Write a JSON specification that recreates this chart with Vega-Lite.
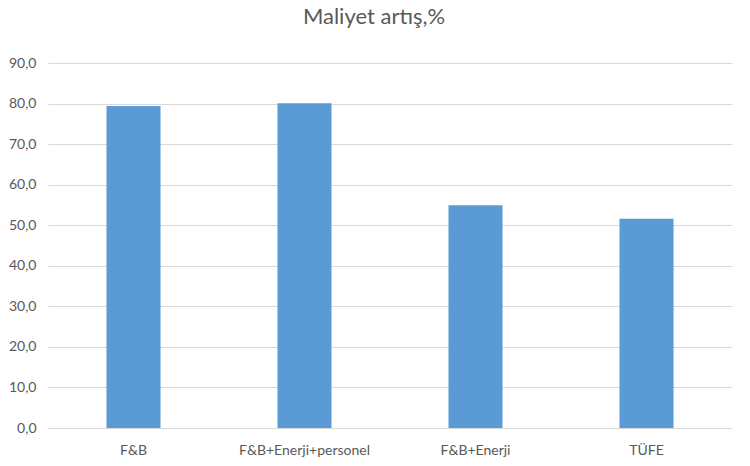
{
  "$schema": "https://vega.github.io/schema/vega-lite/v6.json",
  "width": 684,
  "height": 365,
  "autosize": {"type": "none"},
  "padding": {"left": 48, "top": 63, "right": 18, "bottom": 38},
  "background": "white",
  "title": {
    "text": "Maliyet artış,%",
    "font": "Lato",
    "fontSize": 22,
    "fontWeight": "normal",
    "color": "#595959",
    "anchor": "middle",
    "offset": 27,
    "dx": -16
  },
  "data": {
    "values": [
      {"kategori": "F&B", "deger": 79.4},
      {"kategori": "F&B+Enerji+personel", "deger": 80.1},
      {"kategori": "F&B+Enerji", "deger": 54.9},
      {"kategori": "TÜFE", "deger": 51.6}
    ]
  },
  "mark": {"type": "bar", "color": "#5b9bd5"},
  "encoding": {
    "x": {
      "field": "kategori",
      "type": "nominal",
      "sort": null,
      "scale": {"paddingInner": 0.684, "paddingOuter": 0.342},
      "axis": {
        "title": null,
        "labelAngle": 0,
        "labelFont": "Lato",
        "labelFontSize": 14,
        "labelColor": "#595959",
        "labelPadding": 15,
        "domain": false,
        "ticks": false,
        "grid": false
      }
    },
    "y": {
      "field": "deger",
      "type": "quantitative",
      "scale": {"domain": [0, 90], "nice": false},
      "axis": {
        "title": null,
        "values": [0, 10, 20, 30, 40, 50, 60, 70, 80, 90],
        "format": ".1f",
        "labelExpr": "replace(datum.label, '.', ',')",
        "labelFont": "Lato",
        "labelFontSize": 14,
        "labelColor": "#595959",
        "labelPadding": 12,
        "domain": false,
        "ticks": false,
        "grid": true,
        "gridColor": "#d9d9d9",
        "gridWidth": 1
      }
    }
  },
  "config": {"view": {"stroke": null}}
}
